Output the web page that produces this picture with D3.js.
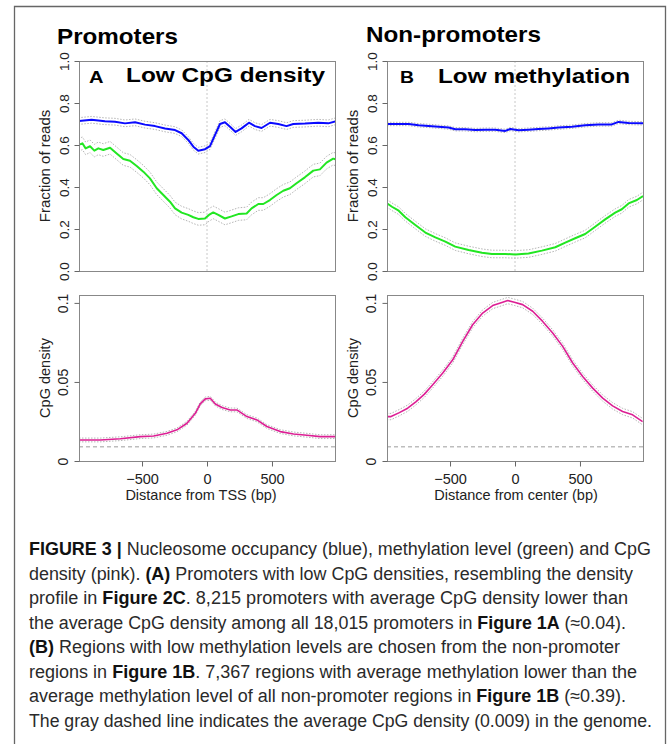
<!DOCTYPE html>
<html>
<head>
<meta charset="utf-8">
<script src="https://cdn.jsdelivr.net/npm/d3@7"></script>
<style>
  html, body { margin: 0; padding: 0; background: #fff; }
  svg { display: block; font-family: "Liberation Sans", Arial, Helvetica, sans-serif; }
</style>
</head>
<body>
<div id="figure"></div>
<script>
// [distance in bp, value]
const promoterBlue = [[-990,0.714],[-888,0.72],[-785,0.713],[-708,0.711],[-631,0.703],[-554,0.708],[-477,0.697],[-400,0.69],
    [-323,0.679],[-246,0.671],[-195,0.656],[-144,0.624],[-105,0.592],[-67,0.573],[-15,0.58],[23,0.595],[62,0.648],[100,0.7],
    [138,0.708],[177,0.687],[220,0.662],[266,0.679],[323,0.706],[369,0.69],[420,0.681],[485,0.706],[548,0.7],[612,0.69],
    [664,0.7],[754,0.702],[856,0.706],[933,0.703],[990,0.713]];

const promoterGreen = [[-990,0.6],[-959,0.608],[-934,0.584],[-900,0.594],[-867,0.573],[-836,0.584],[-798,0.576],[-746,0.587],
    [-695,0.56],[-644,0.533],[-593,0.525],[-541,0.5],[-490,0.473],[-439,0.441],[-387,0.394],[-336,0.362],[-285,0.33],
    [-246,0.298],[-195,0.278],[-144,0.267],[-105,0.256],[-67,0.248],[-16,0.25],[15,0.267],[48,0.279],[87,0.267],[138,0.25],
    [189,0.26],[241,0.271],[305,0.274],[343,0.298],[395,0.319],[433,0.319],[484,0.338],[536,0.362],[587,0.382],[638,0.394],
    [689,0.418],[753,0.446],[818,0.478],[869,0.484],[920,0.516],[971,0.535],[990,0.532]];

const nonPromoterBlue = [[-985,0.7],[-895,0.7],[-818,0.7],[-742,0.694],[-665,0.691],[-588,0.687],[-511,0.683],[-460,0.675],
    [-383,0.675],[-306,0.671],[-229,0.673],[-152,0.673],[-75,0.667],[-36,0.676],[28,0.67],[104,0.673],[181,0.676],[258,0.679],
    [335,0.683],[438,0.687],[540,0.694],[643,0.698],[745,0.698],[797,0.71],[874,0.705],[985,0.703]];

const nonPromoterGreen = [[-985,0.322],[-947,0.306],[-895,0.287],[-844,0.256],[-767,0.219],[-690,0.183],[-613,0.16],
    [-536,0.14],[-460,0.116],[-357,0.1],[-254,0.087],[-178,0.081],[-75,0.081],[2,0.079],[104,0.083],[207,0.097],[310,0.113],
    [387,0.135],[463,0.156],[540,0.176],[617,0.211],[694,0.246],[771,0.278],[822,0.294],[874,0.322],[938,0.338],[985,0.357]];

const promoterCpG = [[-985,0.0133],[-821,0.0133],[-667,0.0141],[-513,0.0154],[-411,0.0158],[-308,0.0175],[-231,0.0197],
    [-154,0.0239],[-90,0.0302],[-52,0.0361],[-13,0.0393],[25,0.0397],[64,0.0361],[115,0.0338],[179,0.0323],[230,0.0323],
    [307,0.0281],[384,0.026],[461,0.0218],[564,0.0186],[666,0.0171],[769,0.0163],[871,0.0154],[987,0.0154]];

const nonPromoterCpG = [[-987,0.0281],[-954,0.0281],[-890,0.0306],[-826,0.0334],[-761,0.0376],[-697,0.0423],[-633,0.0482],
    [-556,0.0556],[-479,0.064],[-402,0.0757],[-326,0.0862],[-249,0.0936],[-172,0.0983],[-95,0.1004],[-56,0.1015],[-5,0.1004],
    [59,0.0989],[136,0.0947],[213,0.0883],[290,0.081],[367,0.0725],[444,0.062],[521,0.0535],[598,0.0461],[675,0.0398],
    [751,0.0349],[828,0.0313],[905,0.0292],[982,0.0249]];

// half width of the dotted confidence band around each profile
const bandPromoterBlue = 0.016, bandPromoterGreen = 0.03;
const bandNonPromoterBlue = 0.008, bandNonPromoterGreen = 0.018;
const bandPromoterCpG = 0.0012, bandNonPromoterCpG = 0.002;

const genomeCpG = 0.009;   // gray dashed line

const xDomain = [-985, 985];
const xTicks = [-500, 0, 500];
const xTickLabels = ['\u2212500', '0', '500'];
const fractionTicks = [0, 0.2, 0.4, 0.6, 0.8, 1.0];
const fractionTickLabels = ['0.0', '0.2', '0.4', '0.6', '0.8', '1.0'];
const cpgTicks = [0, 0.05, 0.1];
const cpgTickLabels = ['0', '0.05', '0.1'];

const captionLines = [
    [['FIGURE 3 | ', true], ['Nucleosome occupancy (blue), methylation level (green) and CpG', false]],
    [['density (pink). ', false], ['(A)', true], [' Promoters with low CpG densities, resembling the density', false]],
    [['profile in ', false], ['Figure 2C', true], ['. 8,215 promoters with average CpG density lower than', false]],
    [['the average CpG density among all 18,015 promoters in ', false], ['Figure 1A', true], [' (\u22480.04).', false]],
    [['(B)', true], [' Regions with low methylation levels are chosen from the non-promoter', false]],
    [['regions in ', false], ['Figure 1B', true], ['. 7,367 regions with average methylation lower than the', false]],
    [['average methylation level of all non-promoter regions in ', false], ['Figure 1B', true], [' (\u22480.39).', false]],
    [['The gray dashed line indicates the average CpG density (0.009) in the genome.', false]]
];
const captionWidths = [622, 604, 599, 597, 591, 608, 597, 623];

const BLUE = '#0a0aff', GREEN = '#22e622', PINK = '#dc1f94';

let svg = d3.select('#figure').append('svg')
    .attr('width', 669)
    .attr('height', 744);

svg.append('rect').attr('width', 669).attr('height', 744).attr('fill', '#fff');

// figure frame (open at the bottom, it runs past the crop)
svg.append('path')
    .attr('d', 'M14.5,760 V6.5 H665.5 V760')
    .attr('fill', 'none')
    .attr('stroke', '#666')
    .attr('stroke-width', 1.3);

let clipCount = 0;

function drawPanel(opt) {
    let x = d3.scaleLinear().domain(xDomain).range([opt.left, opt.right]);
    let y = d3.scaleLinear().domain(opt.yDomain).range([opt.bottom, opt.top]);

    let id = 'clip' + (clipCount++);
    svg.append('clipPath').attr('id', id)
        .append('rect')
        .attr('x', opt.left).attr('y', opt.top)
        .attr('width', opt.right - opt.left).attr('height', opt.bottom - opt.top);

    let g = svg.append('g').attr('clip-path', 'url(#' + id + ')');

    if (opt.centerLine) {
        g.append('line')
            .attr('x1', x(0)).attr('x2', x(0))
            .attr('y1', opt.top).attr('y2', opt.bottom)
            .attr('stroke', '#c8c8c8')
            .attr('stroke-dasharray', '2,2');
    }
    if (opt.refLine !== undefined) {
        g.append('line')
            .attr('x1', opt.left).attr('x2', opt.right)
            .attr('y1', y(opt.refLine)).attr('y2', y(opt.refLine))
            .attr('stroke', '#bdbdbd')
            .attr('stroke-width', 1.5)
            .attr('stroke-dasharray', '4,3');
    }

    opt.series.forEach(s => {
        [-1, 1].forEach(sign => {
            g.append('path')
                .datum(s.data)
                .attr('d', d3.line().x(d => x(d[0])).y(d => y(d[1] + sign * s.band)))
                .attr('fill', 'none')
                .attr('stroke', '#b5b5b5')
                .attr('stroke-width', 1)
                .attr('stroke-dasharray', '1.5,1.5');
        });
        g.append('path')
            .datum(s.data)
            .attr('d', d3.line().x(d => x(d[0])).y(d => y(d[1])))
            .attr('fill', 'none')
            .attr('stroke', s.color)
            .attr('stroke-width', s.width)
            .attr('stroke-linejoin', 'round');
    });

    svg.append('rect')
        .attr('x', opt.left + 0.5).attr('y', opt.top + 0.5)
        .attr('width', opt.right - opt.left).attr('height', opt.bottom - opt.top)
        .attr('fill', 'none')
        .attr('stroke', '#888');

    let yAxis = svg.append('g')
        .attr('transform', 'translate(' + (opt.left + 0.5) + ',0)')
        .call(d3.axisLeft(y).tickValues(opt.yTicks).tickFormat((d, i) => opt.yTickLabels[i]).tickSize(5));
    yAxis.attr('font-family', null).attr('font-size', null);
    yAxis.select('.domain').remove();
    yAxis.selectAll('line').attr('stroke', '#666');
    yAxis.selectAll('text')
        .attr('transform', 'rotate(-90)')
        .attr('x', 0).attr('y', -opt.yTickGap).attr('dy', 0)
        .attr('text-anchor', 'middle')
        .attr('font-size', opt.yTickSize)
        .attr('fill', '#222');

    svg.append('text')
        .attr('transform', 'translate(' + (opt.left - 29) + ',' + ((opt.top + opt.bottom) / 2) + ') rotate(-90)')
        .attr('text-anchor', 'middle')
        .attr('font-size', opt.yTitleSize)
        .attr('fill', '#222')
        .text(opt.yTitle);

    if (opt.xTitle) {
        let xAxis = svg.append('g')
            .attr('transform', 'translate(0,' + (opt.bottom + 0.5) + ')')
            .call(d3.axisBottom(x).tickValues(xTicks).tickFormat((d, i) => xTickLabels[i]).tickSize(5));
        xAxis.attr('font-family', null).attr('font-size', null);
        xAxis.select('.domain').remove();
        xAxis.selectAll('line').attr('stroke', '#666');
        xAxis.selectAll('text')
            .attr('y', 22).attr('dy', 0)
            .attr('font-size', 14.5)
            .attr('fill', '#222');

        svg.append('text')
            .attr('x', opt.xTitleX).attr('y', opt.bottom + 39)
            .attr('text-anchor', 'middle')
            .attr('font-size', 14.5)
            .attr('fill', '#222')
            .text(opt.xTitle);
    }
}

function label(x, y, size, width, txt) {
    svg.append('text')
        .attr('x', x).attr('y', y)
        .attr('font-size', size)
        .attr('font-weight', 'bold')
        .attr('textLength', width)
        .attr('lengthAdjust', 'spacingAndGlyphs')
        .attr('fill', '#000')
        .text(txt);
}

drawPanel({
    left: 79, right: 335, top: 61, bottom: 271,
    yDomain: [0, 1], yTicks: fractionTicks, yTickLabels: fractionTickLabels,
    yTickGap: 10.5, yTickSize: 13.5, yTitle: 'Fraction of reads', yTitleSize: 15,
    centerLine: true,
    series: [
        {data: promoterBlue, color: BLUE, band: bandPromoterBlue, width: 2},
        {data: promoterGreen, color: GREEN, band: bandPromoterGreen, width: 2}
    ]
});

drawPanel({
    left: 387, right: 643, top: 61, bottom: 271,
    yDomain: [0, 1], yTicks: fractionTicks, yTickLabels: fractionTickLabels,
    yTickGap: 10.5, yTickSize: 13.5, yTitle: 'Fraction of reads', yTitleSize: 15,
    centerLine: true,
    series: [
        {data: nonPromoterBlue, color: BLUE, band: bandNonPromoterBlue, width: 2},
        {data: nonPromoterGreen, color: GREEN, band: bandNonPromoterGreen, width: 2}
    ]
});

drawPanel({
    left: 79, right: 335, top: 295, bottom: 461,
    yDomain: [0, 0.105], yTicks: cpgTicks, yTickLabels: cpgTickLabels,
    yTickGap: 12, yTickSize: 14, yTitle: 'CpG density', yTitleSize: 14.5,
    refLine: genomeCpG,
    xTitle: 'Distance from TSS (bp)', xTitleX: 201,
    series: [
        {data: promoterCpG, color: PINK, band: bandPromoterCpG, width: 1.6}
    ]
});

drawPanel({
    left: 387, right: 643, top: 295, bottom: 461,
    yDomain: [0, 0.105], yTicks: cpgTicks, yTickLabels: cpgTickLabels,
    yTickGap: 12, yTickSize: 14, yTitle: 'CpG density', yTitleSize: 14.5,
    refLine: genomeCpG,
    xTitle: 'Distance from center (bp)', xTitleX: 516,
    series: [
        {data: nonPromoterCpG, color: PINK, band: bandNonPromoterCpG, width: 1.6}
    ]
});

// panel headings
label(57, 44, 22, 121, 'Promoters');
label(366, 42, 22, 175, 'Non-promoters');
label(89, 83, 16, 14.5, 'A');
label(126, 82, 19.5, 199, 'Low CpG density');
label(400, 83, 16.5, 14, 'B');
label(438, 83, 19.5, 192, 'Low methylation');

// caption
let caption = svg.append('g')
    .attr('font-family', '"Liberation Sans Narrow", "Liberation Sans", Arial, sans-serif')
    .attr('font-size', 18)
    .attr('fill', '#2a2a2a');

captionLines.forEach((parts, i) => {
    let t = caption.append('text')
        .attr('x', 29)
        .attr('y', 555 + i * 24.5)
        .attr('textLength', captionWidths[i])
        .attr('lengthAdjust', 'spacingAndGlyphs')
        .style('white-space', 'pre');
    parts.forEach(p => {
        t.append('tspan')
            .attr('font-weight', p[1] ? 'bold' : null)
            .attr('fill', p[1] ? '#111' : null)
            .text(p[0]);
    });
});
</script>
</body>
</html>
